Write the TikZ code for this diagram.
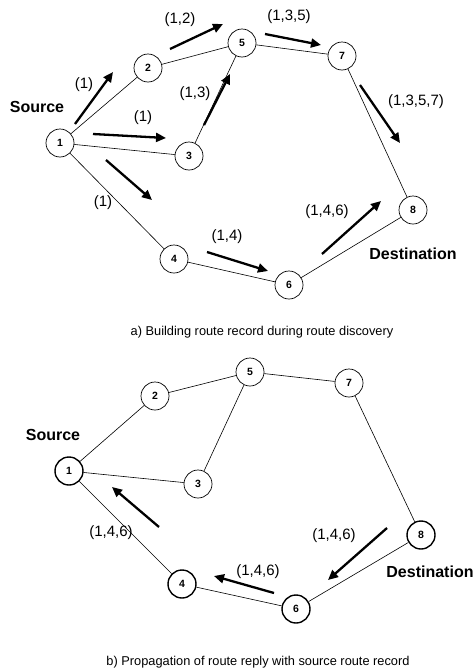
\documentclass[tikz,border=0pt]{standalone}
\usepackage{fontspec}
\setmainfont{Liberation Sans}
\usetikzlibrary{arrows.meta}
\begin{document}
\begin{tikzpicture}[x=1pt,y=-1pt,
  station/.style={circle,draw,line width=0.7pt,minimum size=28pt,inner sep=0pt,font=\fontsize{10.5}{10.5}\selectfont\bfseries},
  thickstation/.style={station,line width=1.4pt},
  link/.style={line width=0.6pt},
  flow/.style={line width=2.3pt,-{Triangle[length=10pt,width=9pt]}},
  rec/.style={font=\fontsize{15}{15}\selectfont},
  role/.style={font=\fontsize{16}{16}\selectfont\bfseries},
  caption/.style={font=\fontsize{12.8}{12.8}\selectfont}]
\useasboundingbox (0,0) rectangle (476,672);

% ---- a) route discovery ----
\node[station] (a1) at (60,143) {1};
\node[station] (a2) at (148,68) {2};
\node[station] (a3) at (189,156) {3};
\node[station] (a4) at (174,259) {4};
\node[station] (a5) at (242,43) {5};
\node[station] (a6) at (289,285) {6};
\node[station] (a7) at (342,56) {7};
\node[station] (a8) at (413,210) {8};
\foreach \u/\v in {1/2,1/3,1/4,2/5,3/5,5/7,7/8,4/6,6/8}
  \draw[link] (a\u) -- (a\v);

\node[role] (asrc) at (37,107) {Source};
\node[role] (adst) at (413,254) {Destination};

\coordinate (p12s) at (75,124);  \coordinate (p12e) at (113,72);
\coordinate (p13s) at (93,134);  \coordinate (p13e) at (166,138);
\coordinate (p14s) at (106,160); \coordinate (p14e) at (152,200);
\coordinate (p25s) at (170,49);  \coordinate (p25e) at (223,24);
\coordinate (p35s) at (204,125); \coordinate (p35e) at (230,74);
\coordinate (p57s) at (265,34);  \coordinate (p57e) at (321,45);
\coordinate (p78s) at (360,85);  \coordinate (p78e) at (400,143);
\coordinate (p46s) at (207,252); \coordinate (p46e) at (268,271);
\coordinate (p68s) at (322,254); \coordinate (p68e) at (381,201);
\foreach \p in {12,13,14,25,35,57,78,46,68}
  \draw[flow] (p\p s) -- (p\p e);

\node[rec] (r12) at (84,85) {(1)};
\node[rec] (r13) at (143,118) {(1)};
\node[rec] (r14) at (103,203) {(1)};
\node[rec] (r25) at (180,20) {(1,2)};
\node[rec] (r35) at (195,94) {(1,3)};
\node[rec] (r57) at (289,17) {(1,3,5)};
\node[rec] (r78) at (416,102) {(1,3,5,7)};
\node[rec] (r46) at (227,237) {(1,4)};
\node[rec] (r68) at (327,212) {(1,4,6)};

\node[caption] (capa) at (262,332) {a) Building route record during route discovery};

% ---- b) route reply ----
\node[thickstation] (b1) at (69,471) {1};
\node[station] (b2) at (155,396) {2};
\node[station] (b3) at (198,484) {3};
\node[thickstation] (b4) at (182,584) {4};
\node[station] (b5) at (250,372) {5};
\node[thickstation] (b6) at (296,609) {6};
\node[station] (b7) at (349,383) {7};
\node[thickstation] (b8) at (421,535) {8};
\foreach \u/\v in {1/2,1/3,1/4,2/5,3/5,5/7,7/8,4/6,6/8}
  \draw[link] (b\u) -- (b\v);

\node[role] (bsrc) at (53,435) {Source};
\node[role] (bdst) at (430,572) {Destination};

\coordinate (q41s) at (159,527); \coordinate (q41e) at (112,487);
\coordinate (q64s) at (274,593); \coordinate (q64e) at (214,576);
\coordinate (q86s) at (387,528); \coordinate (q86e) at (328,580);
\foreach \p in {41,64,86}
  \draw[flow] (q\p s) -- (q\p e);

\node[rec] (s41) at (111,533) {(1,4,6)};
\node[rec] (s64) at (258,572) {(1,4,6)};
\node[rec] (s86) at (334,536) {(1,4,6)};

\node[caption] (capb) at (258,662) {b) Propagation of route reply with source route record};
\end{tikzpicture}
\end{document}
